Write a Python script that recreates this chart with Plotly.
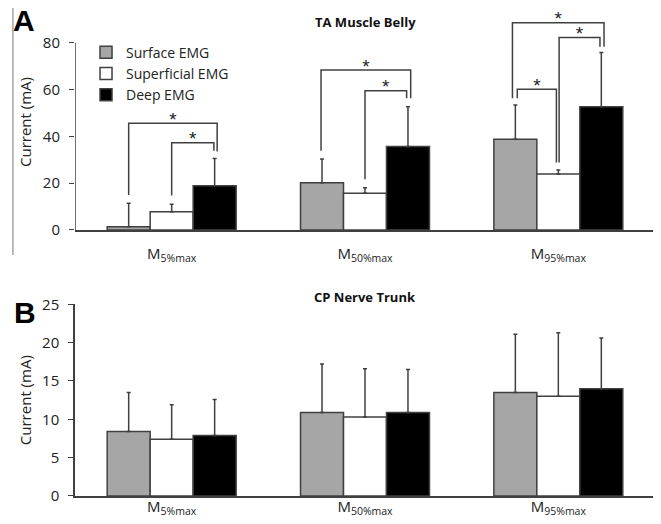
import plotly.graph_objects as go

# ---------------- data ----------------
categories = ["M<sub>5%max</sub>", "M<sub>50%max</sub>", "M<sub>95%max</sub>"]
series_names = ["Surface EMG", "Superficial EMG", "Deep EMG"]

# Panel A: TA Muscle Belly (mean, upper SD)
a_surface = [1.4, 20.2, 38.8]
a_superficial = [7.8, 15.7, 23.9]
a_deep = [18.9, 35.7, 52.7]
a_surface_err = [10.0, 10.1, 14.6]
a_superficial_err = [3.2, 2.3, 1.7]
a_deep_err = [11.7, 17.0, 23.1]

# Panel B: CP Nerve Trunk
b_surface = [8.4, 10.9, 13.5]
b_superficial = [7.4, 10.3, 13.0]
b_deep = [7.9, 10.9, 14.0]
b_surface_err = [5.1, 6.3, 7.6]
b_superficial_err = [4.5, 6.3, 8.3]
b_deep_err = [4.7, 5.6, 6.6]

# Significance brackets in panel A (values in mA)
br_group = [0, 0, 1, 1, 2, 2, 2]
br_left = [0, 1, 0, 1, 0, 0, 1]
br_right = [2, 2, 2, 2, 1, 2, 2]
br_height = [45.6, 37.3, 68.4, 59.5, 60.1, 88.6, 82.3]
br_left_bottom = [15.0, 14.7, 33.9, 21.7, 56.3, 56.3, 28.8]
br_right_bottom = [33.5, 33.9, 56.3, 56.3, 28.8, 78.3, 78.3]

a_ticks = [0, 20, 40, 60, 80]
b_ticks = [0, 5, 10, 15, 20, 25]

# ---------------- style ----------------
FONT = "Open Sans"
DARK = "#404040"
fills = ["#a6a6a6", "#ffffff", "#000000"]
BARGAP = 0.333
bar_w = (1 - BARGAP) / 3
left_nudge = [0.0, 0.0, -0.005, 0.0, 0.01, -0.015, 0.004]
right_nudge = [0.013, -0.004, 0.014, -0.007, -0.01, 0.014, -0.007]
STAR_LIFT = 0.9  # mA above the bracket line

xs = list(range(len(categories)))
fig = go.Figure()

a_vals = [a_surface, a_superficial, a_deep]
a_errs = [a_surface_err, a_superficial_err, a_deep_err]
b_vals = [b_surface, b_superficial, b_deep]
b_errs = [b_surface_err, b_superficial_err, b_deep_err]

for i in range(3):
    fig.add_trace(go.Bar(
        x=xs, y=a_vals[i], name=series_names[i], xaxis="x", yaxis="y",
        marker=dict(color=fills[i], line=dict(color=DARK, width=1.5)),
        error_y=dict(type="data", symmetric=False, array=a_errs[i],
                     arrayminus=[0] * 3, color=DARK, thickness=1.5, width=2),
        showlegend=True))
for i in range(3):
    fig.add_trace(go.Bar(
        x=xs, y=b_vals[i], name=series_names[i], xaxis="x2", yaxis="y2",
        marker=dict(color=fills[i], line=dict(color=DARK, width=1.5)),
        error_y=dict(type="data", symmetric=False, array=b_errs[i],
                     arrayminus=[0] * 3, color=DARK, thickness=1.5, width=2),
        showlegend=False))

# y-axis line of panel A only up to 80
fig.add_trace(go.Scatter(x=[-0.5, -0.5], y=[0, a_ticks[-1]], mode="lines",
                         line=dict(color=DARK, width=1.5), cliponaxis=False,
                         showlegend=False, hoverinfo="skip", xaxis="x", yaxis="y"))

# brackets and stars
bx, by, sx, sy = [], [], [], []
for k in range(len(br_group)):
    g = br_group[k]
    xl = g + (br_left[k] - 1) * bar_w + left_nudge[k]
    xr = g + (br_right[k] - 1) * bar_w + right_nudge[k]
    h = br_height[k]
    bx += [xl, xl, xr, xr, None]
    by += [br_left_bottom[k], h, h, br_right_bottom[k], None]
    sx.append((xl + xr) / 2)
    sy.append(h + STAR_LIFT)
fig.add_trace(go.Scatter(x=bx, y=by, mode="lines", line=dict(color=DARK, width=1.5),
                         cliponaxis=False, showlegend=False, hoverinfo="skip",
                         xaxis="x", yaxis="y"))
fig.add_trace(go.Scatter(x=sx, y=sy, mode="text", text=["*"] * len(sx),
                         textfont=dict(family="Arial", size=19, color="#222"),
                         textposition="middle center",
                         cliponaxis=False, showlegend=False, hoverinfo="skip",
                         xaxis="x", yaxis="y"))

axis_common = dict(tickfont=dict(family=FONT, size=15, color="#222"), automargin=False)

fig.update_layout(
    width=661, height=524,
    # page is shown with an 8px body margin, so the plot area is shifted up-left by 8px
    margin=dict(l=67, r=14, t=6, b=36, autoexpand=False),
    paper_bgcolor="white", plot_bgcolor="white",
    barmode="group", bargap=BARGAP, bargroupgap=0,
    font=dict(family=FONT, color="#222"),
    xaxis=dict(domain=[0, 1], anchor="y", range=[-0.5, 2.5], tickvals=xs,
               ticktext=categories, showline=True, linecolor=DARK, linewidth=1.5,
               ticks="", ticklabelstandoff=9,
               showgrid=False, zeroline=False, **axis_common),
    yaxis=dict(domain=[0.5519, 1.0], anchor="x", range=[0, 92.3], tickvals=a_ticks,
               showline=False, ticks="outside", ticklen=5, tickcolor=DARK,
               ticklabelstandoff=6,
               showgrid=False, zeroline=False,
               title=dict(text="Current (mA)", font=dict(family=FONT, size=15),
                          standoff=7), **axis_common),
    xaxis2=dict(domain=[0, 1], anchor="y2", range=[-0.5, 2.5], tickvals=xs,
                ticktext=categories, showline=True, linecolor=DARK, linewidth=1.5,
                ticks="", ticklabelstandoff=-4,
                showgrid=False, zeroline=False, **axis_common),
    yaxis2=dict(domain=[0, 0.3977], anchor="x2", range=[0, 25], tickvals=b_ticks,
                showline=True, linecolor=DARK, linewidth=1.5, ticks="outside",
                ticklen=5, tickcolor=DARK, ticklabelstandoff=6,
                showgrid=False, zeroline=False,
                title=dict(text="Current (mA)", font=dict(family=FONT, size=15),
                           standoff=7), **axis_common),
    legend=dict(x=0.019, y=0.953, xanchor="left", yanchor="top",
                font=dict(family=FONT, size=14, color="#222"),
                bgcolor="rgba(0,0,0,0)", traceorder="normal", tracegroupgap=0),
    annotations=[
        dict(text="<b>TA Muscle Belly</b>", xref="paper", yref="paper", x=0.5, y=0.983,
             xanchor="center", yanchor="middle", showarrow=False,
             font=dict(family=FONT, size=13, color="#111")),
        dict(text="<b>CP Nerve Trunk</b>", xref="paper", yref="paper", x=0.5, y=0.4135,
             xanchor="center", yanchor="middle", showarrow=False,
             font=dict(family=FONT, size=13, color="#111")),
        dict(text="<b>A</b>", xref="paper", yref="paper", x=-0.088, y=0.9855,
             xanchor="center", yanchor="middle", showarrow=False,
             font=dict(family="Arial", size=30, color="#000")),
        dict(text="<b>B</b>", xref="paper", yref="paper", x=-0.086, y=0.3797,
             xanchor="center", yanchor="middle", showarrow=False,
             font=dict(family="Arial", size=30, color="#000")),
    ],
    shapes=[dict(type="line", xref="paper", yref="paper", x0=-0.107, x1=-0.107,
                 y0=0.5, y1=1.03, line=dict(color="#777", width=1))],
)

fig.write_html("out.html")
